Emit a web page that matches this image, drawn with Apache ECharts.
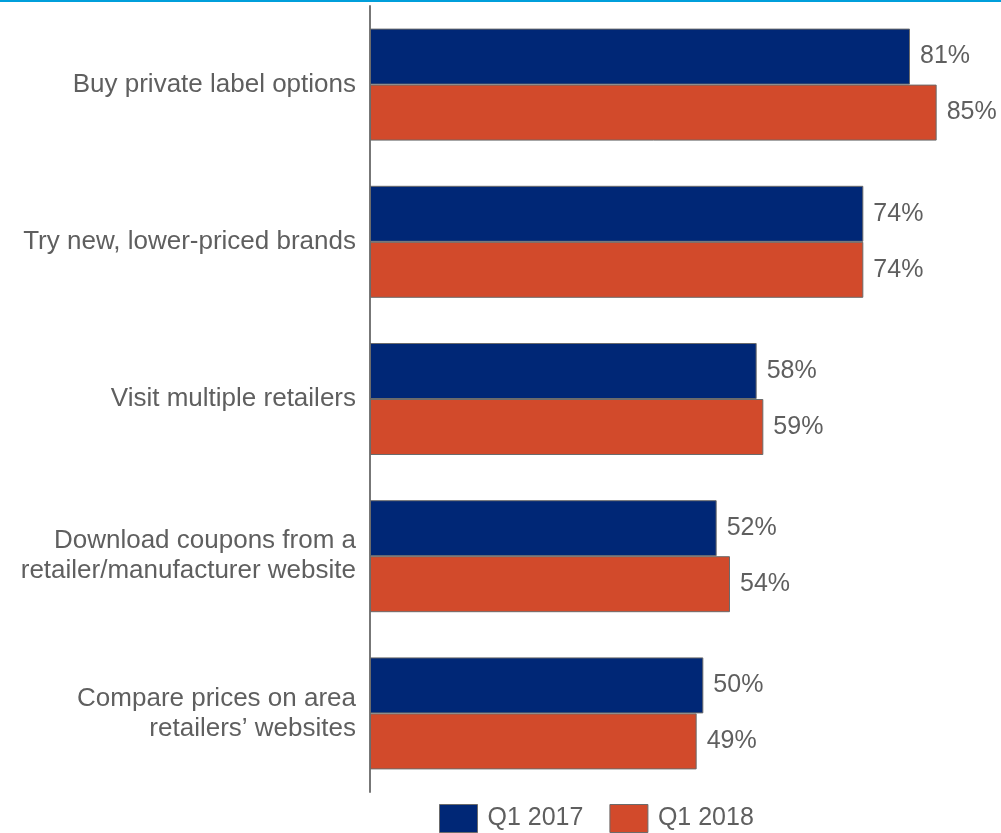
<!DOCTYPE html>
<html>
<head>
<meta charset="utf-8">
<script src="https://cdn.jsdelivr.net/npm/echarts@6/dist/echarts.min.js"></script>
<style>
  html, body { margin: 0; padding: 0; background: #ffffff; }
  #chart { width: 1001px; height: 833px; }
</style>
</head>
<body>
<div id="chart"></div>
<script>
// Survey categories, top to bottom
const categories = [
  'Buy private label options',
  'Try new, lower-priced brands',
  'Visit multiple retailers',
  'Download coupons from a\nretailer/manufacturer website',
  'Compare prices on area\nretailers\u2019 websites'
];
const seriesNames = ['Q1 2017', 'Q1 2018'];
const q1_2017 = [81, 74, 58, 52, 50];
const q1_2018 = [85, 74, 59, 54, 49];

const textColor = '#5f5f5f';
const fontFamily = '"Liberation Sans", Arial, sans-serif';

const chart = echarts.init(document.getElementById('chart'), null, { renderer: 'canvas' });

function barSeries(name, data, color) {
  return {
    name: name,
    type: 'bar',
    data: data,
    barWidth: 56,
    barGap: '0%',
    itemStyle: { color: color, borderColor: '#6b6b6b', borderWidth: 1 },
    label: {
      show: true,
      position: 'right',
      distance: 10,
      formatter: '{c}%',
      fontSize: 25,
      color: textColor,
      fontFamily: fontFamily
    }
  };
}

chart.setOption({
  backgroundColor: '#ffffff',
  animation: false,
  graphic: [{
    type: 'rect',
    left: 0, top: 0,
    shape: { width: 1001, height: 2 },
    style: { fill: '#009fdb' }
  }],
  grid: { left: 370, top: 6, width: 600, height: 786 },
  xAxis: {
    type: 'value',
    min: 0,
    max: 90,
    show: false
  },
  yAxis: {
    type: 'category',
    inverse: true,
    data: categories,
    axisLine: { show: true, lineStyle: { color: '#777777', width: 2 } },
    axisTick: { show: false },
    axisLabel: {
      fontSize: 26,
      lineHeight: 30,
      color: textColor,
      fontFamily: fontFamily,
      margin: 14,
      align: 'right'
    }
  },
  legend: {
    left: 439,
    top: 804,
    padding: 0,
    itemWidth: 38,
    itemHeight: 28,
    itemGap: 26,
    icon: 'rect',
    itemStyle: { borderColor: '#6b6b6b', borderWidth: 1 },
    textStyle: { fontSize: 25, color: textColor, fontFamily: fontFamily, padding: [0, 0, 0, 5] },
    data: seriesNames
  },
  series: [
    barSeries(seriesNames[0], q1_2017, '#002776'),
    barSeries(seriesNames[1], q1_2018, '#d24a2b')
  ]
});
</script>
</body>
</html>
